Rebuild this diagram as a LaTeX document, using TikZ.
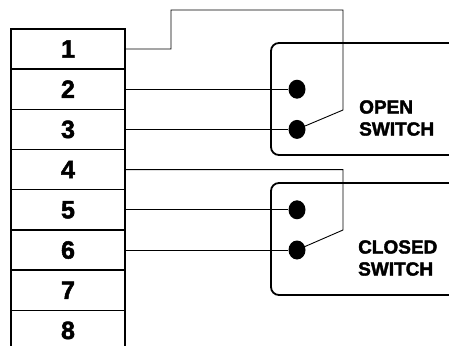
\documentclass[tikz,border=0pt]{standalone}
\usepackage{fontspec}
\setmainfont{Liberation Sans}[BoldFeatures={FakeBold=2}]
\usetikzlibrary{shapes.geometric}
\begin{document}
\begin{tikzpicture}[x=1pt,y=-1pt,
  cell/.style={draw, line width=1.3pt, minimum width=114pt, minimum height=40.2pt, inner sep=0pt, outer sep=0pt, font=\bfseries\fontsize{25}{25}\selectfont},
  wire/.style={line width=0.9pt},
  contact/.style={ellipse, fill=black, minimum width=17pt, minimum height=19pt, inner sep=0pt},
  swbox/.style={line width=1.8pt, rounded corners=8pt},
  lbl/.style={font=\bfseries\fontsize{19}{22}\selectfont, align=left, inner sep=0pt, anchor=west}]
\useasboundingbox (0,0) rectangle (449,345);
\clip (0,0) rectangle (449,345);
% terminal block
\node[cell] (t1) at (68,49) {1};
\node[cell] (t2) at (68,89.2) {2};
\node[cell] (t3) at (68,129.4) {3};
\node[cell] (t4) at (68,169.6) {4};
\node[cell] (t5) at (68,209.8) {5};
\node[cell] (t6) at (68,250) {6};
\node[cell] (t7) at (68,290.2) {7};
\node[cell] (t8) at (68,330.4) {8};
% switch boxes
\draw[swbox] (460,43) -- (271,43) -- (271,155) -- (460,155);
\draw[swbox] (460,183) -- (271,183) -- (271,295) -- (460,295);
% contacts
\node[contact] (o1) at (297,89.2) {};
\node[contact] (o2) at (297,129.4) {};
\node[contact] (c1) at (297,209.8) {};
\node[contact] (c2) at (297,250) {};
% labels
\node[lbl] (lo) at (359,118) {OPEN\\SWITCH};
\node[lbl] (lc) at (358,258) {CLOSED\\SWITCH};
% wires
\coordinate (k1) at (171,10);
\coordinate (k2) at (343,10);
\coordinate (k3) at (343,110);
\coordinate (k5) at (343,230);
\draw[wire] (t1.east) -| (k1) -- (k2) -- (k3) -- (o2);
\draw[wire] (t2.east) -- (o1);
\draw[wire] (t3.east) -- (o2);
\draw[wire] (t4.east) -| (k5) -- (c2);
\draw[wire] (t5.east) -- (c1);
\draw[wire] (t6.east) -- (c2);
\end{tikzpicture}
\end{document}
